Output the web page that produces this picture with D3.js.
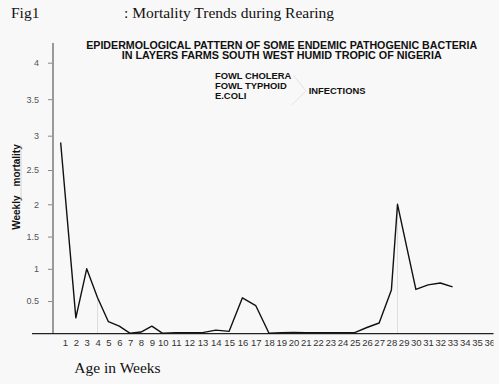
<!DOCTYPE html>
<html><head><meta charset="utf-8">
<script src="https://cdn.jsdelivr.net/npm/d3@7"></script>
<style>
html,body{margin:0;padding:0;background:#f9f8f8;}
svg{display:block;}
</style></head>
<body>
<script>
// ---- data ----
const weeks = [0.6,2,3,4,5,6,7,8,9,10,11,12,13,14,15,16,17,18,19,20,21,22,23,24,25,26,27,28,28.5,30,31,32,33];
const mortality = [2.90,0.24,1.0,0.55,0.18,0.11,0,0.02,0.11,0,0.01,0.01,0.01,0.05,0.03,0.55,0.43,0,0.01,0.015,0.01,0.01,0.01,0.01,0.01,0.09,0.16,0.67,2.0,0.68,0.75,0.78,0.72];
const xTickLabels = d3.range(1,37);
const yTickLabels = [0.5,1,1.5,2,2.5,3,3.5,4];
const titleLines = ["EPIDERMOLOGICAL PATTERN OF SOME ENDEMIC PATHOGENIC BACTERIA","IN LAYERS FARMS SOUTH WEST HUMID TROPIC OF NIGERIA"];
const legendItems = ["FOWL CHOLERA","FOWL TYPHOID","E.COLI"];
const legendGroup = "INFECTIONS";

const W=499,H=384;
const svg=d3.select("body").append("svg").attr("width",W).attr("height",H);
svg.append("rect").attr("width",W).attr("height",H).attr("fill","#f9f8f8");

const x=d3.scaleLinear().domain([1,10,18,36]).range([65,162.7,269,489.3]);
const y=d3.scaleLinear().domain([0,2,3,4]).range([333.3,204.3,135.7,62.7]);

const serif="'Liberation Serif','Times New Roman',serif";
const sans="'Liberation Sans',Arial,sans-serif";
const narrow="'Liberation Sans Narrow','Arial Narrow','Liberation Sans',sans-serif";

// header
svg.append("text").attr("x",11).attr("y",17.5).attr("font-family",serif).attr("font-size",15.5).attr("fill","#111").text("Fig1");
svg.append("text").attr("x",124).attr("y",17.5).attr("font-family",serif).attr("font-size",15.5).attr("fill","#111").text(": Mortality Trends during Rearing");

// chart title
const tLens=[391,320];
titleLines.forEach((t,i)=>{
  svg.append("text").attr("x",281.7).attr("y",48.6+i*10).attr("text-anchor","middle")
    .attr("font-family",sans).attr("font-weight","bold").attr("font-size",10.3).attr("fill","#111")
    .attr("textLength",tLens[i]).attr("lengthAdjust","spacingAndGlyphs").text(t);
});

// legend
legendItems.forEach((t,i)=>{
  svg.append("text").attr("x",215).attr("y",78.5+i*10).attr("font-family",sans).attr("font-weight","bold")
    .attr("font-size",9.4).attr("fill","#111").text(t);
});
svg.append("text").attr("x",308.7).attr("y",94.3).attr("font-family",sans).attr("font-weight","bold")
  .attr("font-size",9.4).attr("fill","#111").text(legendGroup);
svg.append("path").attr("d",d3.line()([[293.3,75],[306,91],[291.7,105]])).attr("fill","none").attr("stroke","#ddd").attr("stroke-width",0.8);

// faint guide lines
[[4,0.55],[28.5,2.0]].forEach(([wx,v])=>{
  svg.append("line").attr("x1",x(wx)).attr("x2",x(wx)).attr("y1",y(v)).attr("y2",y(0)).attr("stroke","#d6d6d6").attr("stroke-width",0.8);
});

// y axis
const yAxis=d3.axisLeft(y).tickValues(yTickLabels).tickFormat(d3.format("")).tickSize(5).tickPadding(9);
const gy=svg.append("g").attr("transform","translate(53,0)").call(yAxis);
gy.select(".domain").remove();
gy.append("line").attr("x1",0).attr("x2",0).attr("y1",43).attr("y2",y(0)).attr("stroke","#999").attr("stroke-width",2);
gy.selectAll(".tick line").attr("stroke","#888");
gy.selectAll(".tick text").attr("font-family",narrow).attr("font-size",9).attr("fill","#555");

// x axis
svg.append("defs").append("clipPath").attr("id","xc").append("rect").attr("x",0).attr("y",0).attr("width",493.5).attr("height",H);
const xAxis=d3.axisBottom(x).tickValues(xTickLabels).tickFormat(d3.format("d")).tickSize(0).tickPadding(6);
const gx=svg.append("g").attr("clip-path","url(#xc)").append("g").attr("transform",`translate(0,${y(0)})`).call(xAxis);
gx.select(".domain").remove();
gx.selectAll(".tick text").attr("font-family",narrow).attr("font-size",9.5).attr("fill","#333");
svg.append("line").attr("x1",32).attr("x2",493.5).attr("y1",y(0)+0.3).attr("y2",y(0)+0.3).attr("stroke","#222").attr("stroke-width",1.2);

// data line
const pts=weeks.map((w,i)=>[w,mortality[i]]);
svg.append("path").datum(pts).attr("d",d3.line().x(d=>x(d[0])).y(d=>y(d[1])))
  .attr("fill","none").attr("stroke","#111").attr("stroke-width",1.4).attr("stroke-linejoin","round");

// y label
const yl=svg.append("text").attr("transform","translate(20,187) rotate(-90)").attr("text-anchor","middle")
  .attr("font-family",sans).attr("font-weight","bold").attr("font-size",10).attr("fill","#111");
yl.append("tspan").text("Weekly");
yl.append("tspan").attr("dx",9).text("mortality");
svg.append("line").attr("x1",21).attr("x2",21).attr("y1",145).attr("y2",200).attr("stroke","#ccc").attr("stroke-width",0.8);

// x label
svg.append("text").attr("x",74.3).attr("y",372.5).attr("font-family",serif).attr("font-size",15.5).attr("fill","#111").text("Age in Weeks");
</script>
</body></html>
